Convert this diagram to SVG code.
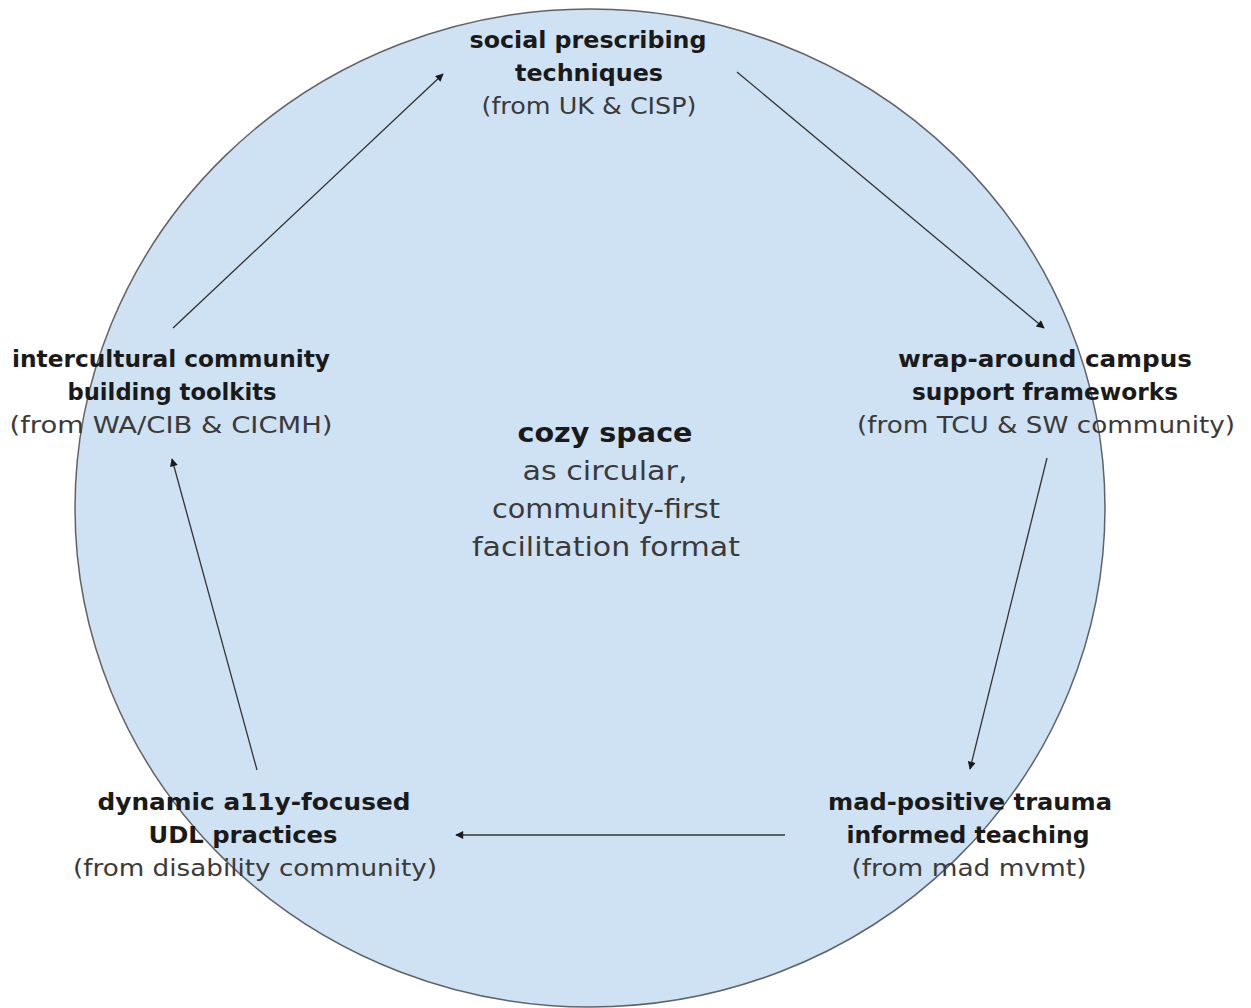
<svg xmlns="http://www.w3.org/2000/svg" width="1251" height="1008" viewBox="0 0 1251 1008">
  <style>
    text { font-family: "DejaVu Sans", "Liberation Sans", sans-serif; text-anchor: middle; }
    .t { font-size: 23px; font-weight: bold; fill: #1a1a1a; }
    .s { font-size: 23px; fill: #3a3a3a; }
    .ct { font-size: 26px; font-weight: bold; fill: #1a1a1a; }
    .cs { font-size: 26px; fill: #3a3a3a; }
    .edge { stroke: #333333; stroke-width: 1.3; fill: none; marker-end: url(#head); }
  </style>
  <defs>
    <marker id="head" viewBox="0 0 10 10" refX="9" refY="5" markerWidth="9" markerHeight="8" markerUnits="userSpaceOnUse" orient="auto">
      <path d="M0,0 L10,5 L0,10 z" fill="#1a1a1a"/>
    </marker>
  </defs>
  <rect width="1251" height="1008" fill="#ffffff"/>

  <!-- background ring -->
  <g id="space">
    <ellipse cx="590" cy="508" rx="515" ry="499" fill="#cfe2f3" stroke="#5f6368" stroke-width="1.5"/>
  </g>

  <!-- connectors between practices -->
  <g id="connectors">
    <line class="edge" x1="173" y1="328" x2="443" y2="74"/>
    <line class="edge" x1="737" y1="72" x2="1044" y2="328"/>
    <line class="edge" x1="1047" y1="458" x2="970" y2="769"/>
    <line class="edge" x1="785" y1="835" x2="456" y2="835"/>
    <line class="edge" x1="257" y1="770" x2="172" y2="459"/>
  </g>

  <g id="node-social">
    <text class="t" x="588" y="48" textLength="237" lengthAdjust="spacingAndGlyphs">social prescribing</text>
    <text class="t" x="589" y="81" textLength="148" lengthAdjust="spacingAndGlyphs">techniques</text>
    <text class="s" x="589" y="114" textLength="215" lengthAdjust="spacingAndGlyphs">(from UK &amp; CISP)</text>
  </g>

  <g id="node-wraparound">
    <text class="t" x="1045" y="367" textLength="294" lengthAdjust="spacingAndGlyphs">wrap-around campus</text>
    <text class="t" x="1045" y="400" textLength="266" lengthAdjust="spacingAndGlyphs">support frameworks</text>
    <text class="s" x="1046" y="433" textLength="378" lengthAdjust="spacingAndGlyphs">(from TCU &amp; SW community)</text>
  </g>

  <g id="node-mad">
    <text class="t" x="970" y="810" textLength="284" lengthAdjust="spacingAndGlyphs">mad-positive trauma</text>
    <text class="t" x="968" y="843" textLength="243" lengthAdjust="spacingAndGlyphs">informed teaching</text>
    <text class="s" x="969" y="876" textLength="235" lengthAdjust="spacingAndGlyphs">(from mad mvmt)</text>
  </g>

  <g id="node-udl">
    <text class="t" x="254" y="810" textLength="313" lengthAdjust="spacingAndGlyphs">dynamic a11y-focused</text>
    <text class="t" x="243" y="843" textLength="189" lengthAdjust="spacingAndGlyphs">UDL practices</text>
    <text class="s" x="255" y="876" textLength="364" lengthAdjust="spacingAndGlyphs">(from disability community)</text>
  </g>

  <g id="node-intercultural">
    <text class="t" x="171" y="367" textLength="318" lengthAdjust="spacingAndGlyphs">intercultural community</text>
    <text class="t" x="172" y="400" textLength="209" lengthAdjust="spacingAndGlyphs">building toolkits</text>
    <text class="s" x="171" y="433" textLength="323" lengthAdjust="spacingAndGlyphs">(from WA/CIB &amp; CICMH)</text>
  </g>

  <g id="node-cozy">
    <text class="ct" x="605" y="442" textLength="175" lengthAdjust="spacingAndGlyphs">cozy space</text>
    <text class="cs" x="605" y="480" textLength="165" lengthAdjust="spacingAndGlyphs">as circular,</text>
    <text class="cs" x="606" y="518" textLength="228" lengthAdjust="spacingAndGlyphs">community-first</text>
    <text class="cs" x="606" y="556" textLength="268" lengthAdjust="spacingAndGlyphs">facilitation format</text>
  </g>
</svg>
